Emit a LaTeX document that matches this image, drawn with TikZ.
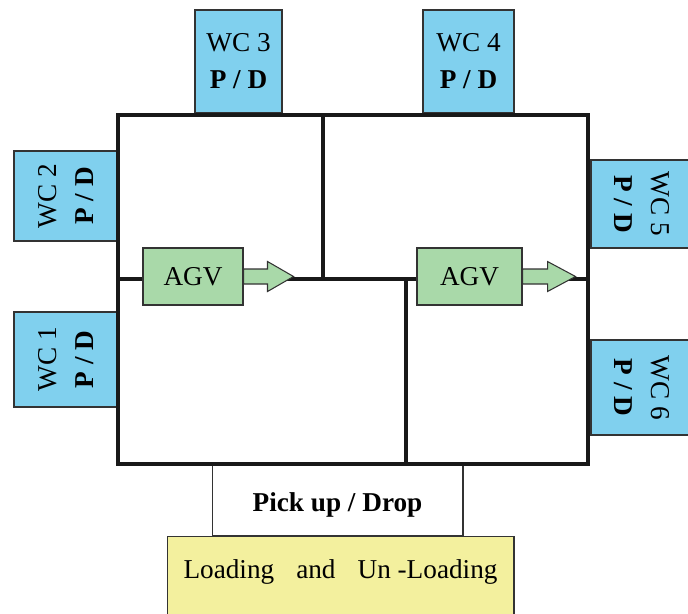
\documentclass[tikz,border=0pt]{standalone}
\usepackage{fontspec}
\setmainfont{Liberation Serif}
\definecolor{wcblue}{RGB}{128,208,238}
\definecolor{agvgreen}{RGB}{169,217,169}
\definecolor{ldyellow}{RGB}{243,240,158}
\tikzset{
  blk/.style={draw=black!80, line width=0.6pt, align=center, inner sep=0pt,
              font=\fontsize{15.5}{21}\selectfont},
  wc/.style={blk, fill=wcblue},
  agv/.style={blk, fill=agvgreen, minimum height=1.14cm},
  pd/.style={blk, fill=white, font=\fontsize{15.5}{21}\selectfont\bfseries},
  ld/.style={blk, fill=ldyellow},
  wall/.style={line width=2.4pt, black!90},
  mv/.style={draw=black!80, line width=0.6pt, fill=agvgreen},
}

\begin{document}
\begin{tikzpicture}[x=0.02cm, y=-0.02cm]
\useasboundingbox (0,0) rectangle (688,613);
% work cells
\node[wc, minimum width=1.74cm, minimum height=2.06cm] (wc3) at (238.5,61.5) {WC 3\\\textbf{P / D}};
\node[wc, minimum width=1.82cm, minimum height=2.06cm] (wc4) at (468.5,61.5) {WC 4\\\textbf{P / D}};
\node[wc, rotate=90, minimum width=1.8cm, minimum height=2.08cm] (wc2) at (66,196) {WC 2\\\textbf{P / D}};
\node[wc, rotate=90, minimum width=1.9cm, minimum height=2.08cm] (wc1) at (66,359.5) {WC 1\\\textbf{P / D}};
\node[wc, rotate=-90, minimum width=1.76cm, minimum height=2.02cm] (wc5) at (641.5,204) {WC 5\\\textbf{P / D}};
\node[wc, rotate=-90, minimum width=1.9cm, minimum height=2.02cm] (wc6) at (641.5,387.5) {WC 6\\\textbf{P / D}};
% loading area
\node[ld, minimum width=6.94cm, minimum height=1.68cm, text depth=10pt] (load) at (340.5,578)
  {Loading\hspace{0.44cm}and\hspace{0.44cm}Un -Loading};
\node[pd, minimum width=5.02cm, minimum height=1.42cm, text height=15.5pt] (pick) at (337.5,500.5) {Pick up / Drop};
% walls
\draw[wall] (118,115) rectangle (588,464);
\draw[wall] (323,115) -- (323,279);
\draw[wall] (118,279) -- (588,279);
\draw[wall] (406,279) -- (406,464);
% vehicles
\node[agv, minimum width=2cm] (a1) at (193,276.5) {AGV};
\draw[mv] (a1.east) ++(0,-7.5) -- ++(24,0) -- ++(0,-7.5) -- ++(26,15)
  -- ++(-26,15) -- ++(0,-7.5) -- ++(-24,0) -- cycle;
\node[agv, minimum width=2.1cm] (a2) at (469.5,276.5) {AGV};
\draw[mv] (a2.east) ++(0,-7.5) -- ++(25,0) -- ++(0,-7.5) -- ++(28,15)
  -- ++(-28,15) -- ++(0,-7.5) -- ++(-25,0) -- cycle;
\end{tikzpicture}
\end{document}
